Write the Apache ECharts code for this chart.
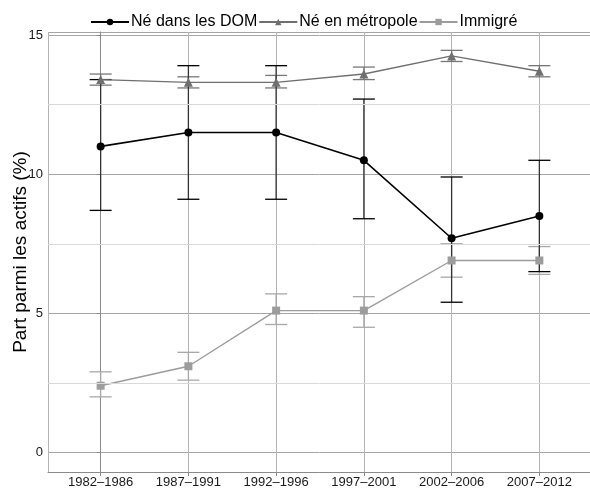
<!DOCTYPE html>
<html>
<head>
<meta charset="utf-8">
<script src="https://cdn.jsdelivr.net/npm/echarts@6/dist/echarts.min.js"></script>
<style>html,body{margin:0;padding:0;background:#fff}#c{width:590px;height:490px}</style>
</head>
<body>
<div id="c"></div>
<script>
const categories = ['1982\u20131986','1987\u20131991','1992\u20131996','1997\u20132001','2002\u20132006','2007\u20132012'];
const seriesNames = ['Né dans les DOM','Né en métropole','Immigré'];
const domValues = [11.0, 11.5, 11.5, 10.5, 7.7, 8.5];
const domLow    = [8.7, 9.1, 9.1, 8.4, 5.4, 6.5];
const domHigh   = [13.4, 13.9, 13.9, 12.7, 9.9, 10.5];
const metroValues = [13.4, 13.3, 13.3, 13.6, 14.25, 13.7];
const metroLow    = [13.2, 13.1, 13.1, 13.4, 14.05, 13.5];
const metroHigh   = [13.6, 13.5, 13.55, 13.85, 14.45, 13.9];
const immValues = [2.4, 3.1, 5.1, 5.1, 6.9, 6.9];
const immLow    = [2.0, 2.6, 4.6, 4.5, 6.3, 6.4];
const immHigh   = [2.9, 3.6, 5.7, 5.6, 7.5, 7.4];
const minorGrid = [2.5, 7.5, 12.5];
const yTitle = 'Part parmi les actifs (%)';

const FONT = '"Liberation Sans", Arial, sans-serif';
const colors = ['#000000', '#6f6f6f', '#9c9c9c'];

function pts(vals){ return vals.map((v,i)=>[i,v]); }
function bars(lo,hi){ return lo.map((l,i)=>[i,l,hi[i]]); }
function errRender(color, vColor){
  return function(params, api){
    const x = api.value(0);
    const p1 = api.coord([x, api.value(1)]);
    const p2 = api.coord([x, api.value(2)]);
    const hw = 11;
    const st = {stroke: color, lineWidth: 1.3};
    return {type:'group', children:[
      {type:'line', shape:{x1:p1[0],y1:p1[1],x2:p2[0],y2:p2[1]}, style:{stroke:vColor, lineWidth:1.3}},
      {type:'line', shape:{x1:p1[0]-hw,y1:p1[1],x2:p1[0]+hw,y2:p1[1]}, style:st},
      {type:'line', shape:{x1:p2[0]-hw,y1:p2[1],x2:p2[0]+hw,y2:p2[1]}, style:st}
    ]};
  };
}

const chart = echarts.init(document.getElementById('c'), null, {renderer:'canvas'});
chart.setOption({
  animation: false,
  backgroundColor: '#fff',
  textStyle: {fontFamily: FONT},
  legend: {
    data: seriesNames,
    left: 85, top: 9,
    itemWidth: 38, itemHeight: 8, itemGap: 1,
    itemStyle: {borderWidth: 0},
    textStyle: {fontSize: 16, color: '#000', fontFamily: FONT, padding: [0, 0, 0, -3]}
  },
  grid: {left: 48, top: 32, width: 544, height: 440, containLabel: false, outerBoundsMode: 'none'},
  xAxis: {
    type: 'value', min: -0.6, max: 5.6, splitNumber: 6, minInterval: 1, maxInterval: 1,
    axisLine: {show: true, onZero: false, lineStyle: {color: '#8a8a8a', width: 1}},
    axisTick: {show: true, length: 4, lineStyle: {color: '#8a8a8a'}},
    axisLabel: {show: true, showMinLabel: false, showMaxLabel: false, margin: 4, fontSize: 13, color: '#1a1a1a', fontFamily: FONT,
      formatter: v => categories[Math.round(v)] !== undefined && Math.abs(v - Math.round(v)) < 1e-6 ? categories[Math.round(v)] : ''},
    splitLine: {show: true, lineStyle: {color: '#b3b3b3', width: 1}}
  },
  yAxis: {
    type: 'value', min: -0.7, max: 15.11, splitNumber: 3, minInterval: 5, maxInterval: 5,
    name: yTitle, nameLocation: 'middle', nameRotate: 90, nameGap: 18, nameMoveOverlap: false,
    nameTextStyle: {fontSize: 19, color: '#000', fontFamily: FONT},
    axisLine: {show: true, lineStyle: {color: '#8a8a8a', width: 1}},
    axisTick: {show: true, length: 4, lineStyle: {color: '#8a8a8a'}},
    axisLabel: {show: true, showMinLabel: false, showMaxLabel: false, margin: 5, fontSize: 13, color: '#1a1a1a', fontFamily: FONT},
    splitLine: {show: true, lineStyle: {color: '#a6a6a6', width: 1}}
  },
  series: [
    {type: 'line', name: '_minor', data: [], silent: true, z: 1,
      markLine: {silent: true, symbol: 'none', label: {show: false},
        lineStyle: {color: '#d9d9d9', width: 1, type: 'solid'},
        data: minorGrid.map(v => ({yAxis: v}))}},
    {type: 'custom', name: '_errImm', renderItem: errRender('#a8a8a8', '#a8a8a8'), data: bars(immLow, immHigh), z: 2, silent: true},
    {type: 'custom', name: '_errMetro', renderItem: errRender('#777777', '#777777'), data: bars(metroLow, metroHigh), z: 2, silent: true},
    {type: 'custom', name: '_errDom', renderItem: errRender('#000000', '#333333'), data: bars(domLow, domHigh), z: 3, silent: true},
    {type: 'line', name: seriesNames[2], data: pts(immValues), color: colors[2], symbol: 'rect', symbolSize: 8,
      lineStyle: {width: 1.4, color: colors[2]}, itemStyle: {color: colors[2]}, z: 4},
    {type: 'line', name: seriesNames[1], data: pts(metroValues), color: colors[1], symbol: 'triangle', symbolSize: 9,
      lineStyle: {width: 1.4, color: colors[1]}, itemStyle: {color: colors[1]}, z: 4},
    {type: 'line', name: seriesNames[0], data: pts(domValues), color: colors[0], symbol: 'circle', symbolSize: 8,
      lineStyle: {width: 1.6, color: colors[0]}, itemStyle: {color: colors[0]}, z: 5}
  ]
});
</script>
</body>
</html>
